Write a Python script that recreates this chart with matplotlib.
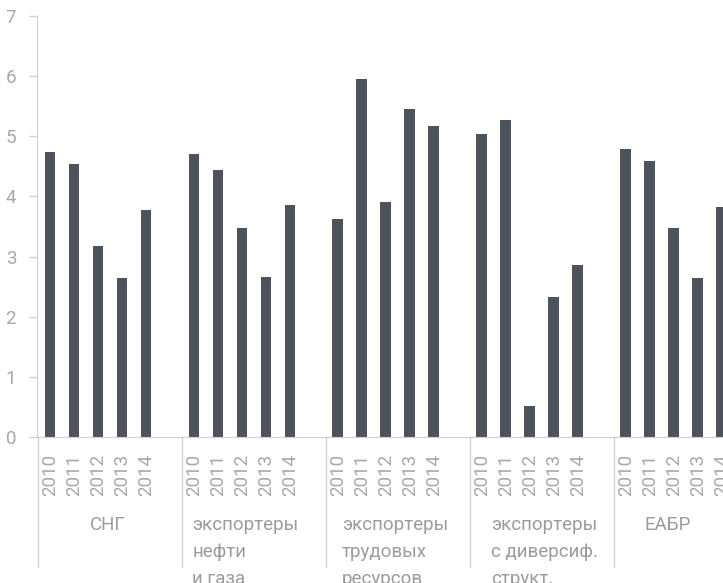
import numpy as np
import matplotlib.pyplot as plt
import matplotlib.transforms as mtransforms

plt.rcParams['font.family'] = ['Roboto', 'DejaVu Sans']

groups = ['СНГ', 'экспортеры\nнефти\nи газа', 'экспортеры\nтрудовых\nресурсов',
          'экспортеры\nс диверсиф.\nструкт.', 'ЕАБР']
years = ['2010', '2011', '2012', '2013', '2014']

cis = [4.74, 4.54, 3.18, 2.64, 3.77]
oil_gas = [4.71, 4.44, 3.48, 2.66, 3.86]
labour = [3.62, 5.95, 3.91, 5.45, 5.17]
diversified = [5.04, 5.27, 0.52, 2.32, 2.86]
eabr = [4.79, 4.59, 3.48, 2.64, 3.82]

series = [cis, oil_gas, labour, diversified, eabr]

bar_color = '#4c535c'
grey = '#a8a8a8'
label_grey = '#9c9c9c'
line_grey = '#d0d0d0'

fig = plt.figure(figsize=(7.23, 5.83), dpi=100)
ax = fig.add_axes([37 / 723, 1 - 437 / 583, 1 - 37 / 723, (437 - 16) / 583])

step = len(years) + 1
xs, vals, labels = [], [], []
for g, vs in enumerate(series):
    for i, v in enumerate(vs):
        xs.append(g * step + i)
        vals.append(v)
        labels.append(years[i])

ax.bar(xs, vals, width=0.45, color=bar_color)

ax.set_xlim(-0.54, 28.05)
ax.set_ylim(0, 7)
ax.set_yticks(range(0, 8))
ax.set_xticks(xs)
ax.set_xticklabels(labels, rotation=90)

ax.tick_params(axis='y', colors=line_grey, labelcolor=grey, labelsize=13.5,
               length=6, width=1, pad=9)
ax.tick_params(axis='x', length=0, labelcolor=grey, labelsize=13.5, pad=12)

for s in ['top', 'right']:
    ax.spines[s].set_visible(False)
ax.spines['left'].set_color(line_grey)
ax.spines['bottom'].set_color(line_grey)

# group separators going below the axis
trans = mtransforms.blended_transform_factory(ax.transData, ax.transAxes)
bottom = -(567 - 437) / 421
for g in range(len(series)):
    xb = g * step - 0.5
    ax.plot([xb, xb], [0, bottom], color=line_grey, lw=1, transform=trans,
            clip_on=False)

label_x = [2.42, 8.15, 14.37, 20.6, 25.75]
for lx, name in zip(label_x, groups):
    ax.text(lx, -0.188, name, transform=trans, ha='center', va='top',
            multialignment='left', fontsize=13.5, color=label_grey,
            linespacing=1.62)

fig.savefig('out.png', dpi=100)
